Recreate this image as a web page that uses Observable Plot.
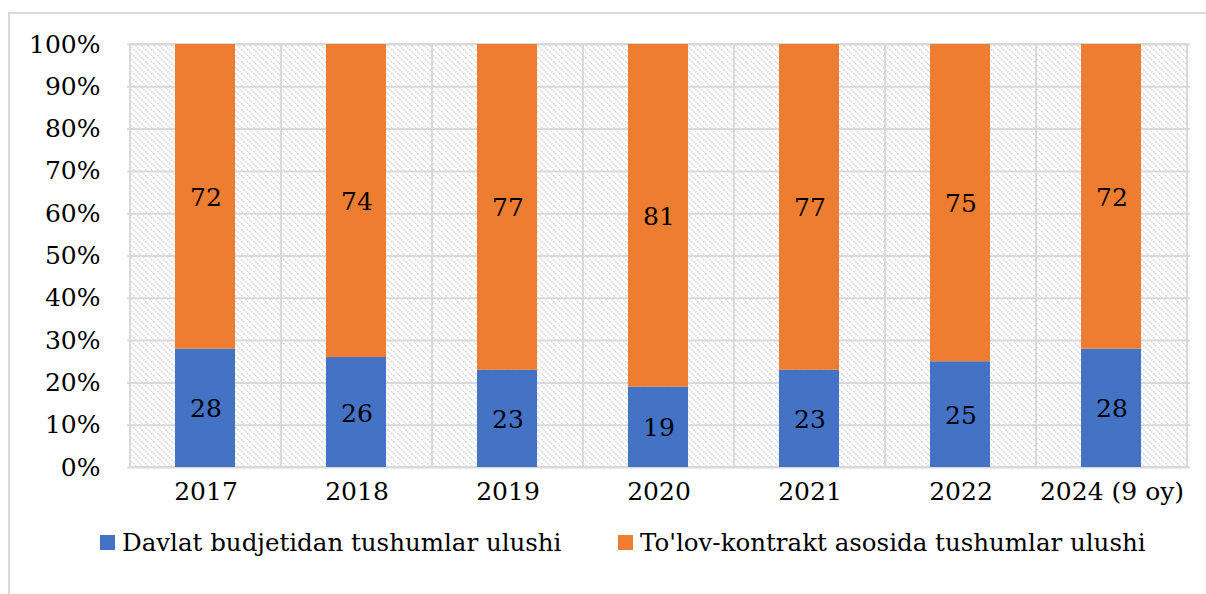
<!DOCTYPE html>
<html>
<head>
<meta charset="utf-8">
<script src="https://cdn.jsdelivr.net/npm/d3@7"></script>
<script src="https://cdn.jsdelivr.net/npm/@observablehq/plot@0.6"></script>
<style>
  html, body { margin: 0; padding: 0; background: #fff; width: 1206px; height: 594px; overflow: hidden; }
  #frame { position: absolute; left: 8px; top: 12px; width: 1300px; height: 700px; border: 2px solid #d9d9d9; }
  #chart { position: absolute; left: 0; top: 0; }
  #legend { position: absolute; top: 528px; left: 100px; font-family: "DejaVu Serif", serif; font-size: 24.5px; color: #000; white-space: nowrap; }
  .item { position: absolute; top: 0; display: flex; align-items: center; }
  .sw { width: 15px; height: 15px; margin-right: 7px; }
</style>
</head>
<body>
<div id="frame"></div>
<div id="chart"></div>
<div id="legend"></div>
<script>
const categories = ["2017", "2018", "2019", "2020", "2021", "2022", "2024 (9 oy)"];
const budget = [28, 26, 23, 19, 23, 25, 28];
const contract = [72, 74, 77, 81, 77, 75, 72];
const seriesNames = ["Davlat budjetidan tushumlar ulushi", "To'lov-kontrakt asosida tushumlar ulushi"];
const colors = ["#4472C4", "#ED7D31"];
const yTicks = [0, 10, 20, 30, 40, 50, 60, 70, 80, 90, 100];

const rows = [];
categories.forEach((c, i) => {
  rows.push({cat: c, series: seriesNames[0], value: budget[i]});
  rows.push({cat: c, series: seriesNames[1], value: contract[i]});
});

const font = "DejaVu Serif";
const fs = 25;
const plot = Plot.plot({
  width: 1206,
  height: 520,
  marginLeft: 127,
  marginRight: 16,
  marginTop: 44,
  marginBottom: 53,
  style: {fontFamily: font, fontSize: fs + "px", color: "#000", background: "transparent"},
  x: {domain: categories, padding: 0, label: null},
  y: {domain: [0, 100], label: null},
  color: {domain: seriesNames, range: colors},
  marks: [
    Plot.barY(categories, {x: d => d, y1: 0, y2: 100, fill: "url(#hatch)", stroke: "#d9d9d9", strokeWidth: 2}),
    Plot.gridY(yTicks, {stroke: "#d9d9d9", strokeOpacity: 1, strokeWidth: 2}),
    Plot.barY(rows, Plot.stackY({x: "cat", y: "value", fill: "series", order: seriesNames, insetLeft: 45, insetRight: 46})),
    Plot.text(rows, Plot.stackY({x: "cat", y: "value", text: "value", z: "series", order: seriesNames, fill: "#000", fontSize: fs, fontFamily: font, dy: 1})),
    Plot.axisX({tickSize: 0, tickPadding: 15, fontSize: fs, fontFamily: font, fill: "#000"}),
    Plot.axisY({ticks: yTicks, tickFormat: d => d + "%", tickSize: 0, tickPadding: 27, fontSize: fs, fontFamily: font, fill: "#000"})
  ]
});

d3.select(plot).insert("defs", ":first-child").html(
  `<pattern id="hatch" patternUnits="userSpaceOnUse" width="6" height="6">
     <path d="M-1,-1 L7,7 M-1,5 L1,7 M5,-1 L7,1" stroke="#d2d2d2" stroke-width="1.3" stroke-dasharray="2,1"/>
   </pattern>`
);
document.getElementById("chart").appendChild(plot);

const legend = document.getElementById("legend");
const lefts = [0, 518];
seriesNames.forEach((s, i) => {
  const it = document.createElement("div");
  it.className = "item";
  it.style.left = lefts[i] + "px";
  const sw = document.createElement("span");
  sw.className = "sw";
  sw.style.background = colors[i];
  const t = document.createElement("span");
  t.textContent = s;
  it.appendChild(sw);
  it.appendChild(t);
  legend.appendChild(it);
});
</script>
</body>
</html>
